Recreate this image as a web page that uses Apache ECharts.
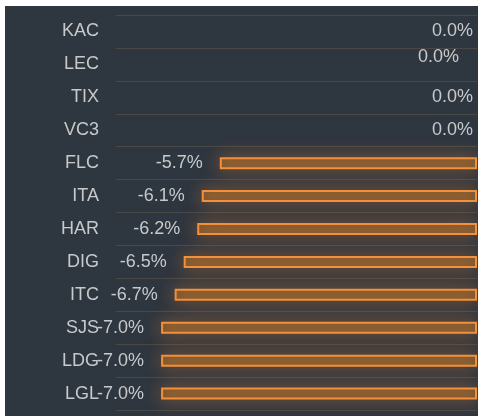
<!DOCTYPE html>
<html>
<head>
<meta charset="utf-8">
<script src="https://cdn.jsdelivr.net/npm/echarts@6/dist/echarts.min.js"></script>
<style>
  html, body { margin: 0; padding: 0; background: #fff; }
  #main { width: 478px; height: 416px; }
</style>
</head>
<body>
<div id="main"></div>
<script>
const tickers = ['KAC', 'LEC', 'TIX', 'VC3', 'FLC', 'ITA', 'HAR', 'DIG', 'ITC', 'SJS', 'LDG', 'LGL']
const changes = [0.0, 0.0, 0.0, 0.0, -5.7, -6.1, -6.2, -6.5, -6.7, -7.0, -7.0, -7.0]

const orange = '#f5903a'
const labelColor = '#c8c9ca'

let myChart = echarts.init(document.getElementById('main'))

let barData = changes.map((v, i) => {
  let item = { value: v }
  if (v === 0) {
    // flat bars: nothing to draw, only the label
    item.itemStyle = { borderWidth: 0, color: 'transparent', shadowBlur: 0 }
    item.label = { distance: 4 }
    if (tickers[i] === 'LEC') item.label.offset = [-14, -7]
  }
  return item
})

let option = {
  animation: false,
  backgroundColor: '#fff',
  graphic: [{
    type: 'rect',
    z: -10,
    silent: true,
    shape: { x: 5, y: 6, width: 473, height: 410 },
    style: { fill: '#2e3640' }
  }],
  grid: {
    left: 116,
    right: 1,
    top: 15,
    bottom: 6,
    containLabel: false
  },
  xAxis: {
    type: 'value',
    min: -8,
    max: 0,
    show: false,
    splitLine: { show: false }
  },
  yAxis: {
    type: 'category',
    inverse: true,
    data: tickers,
    axisLine: { show: false },
    axisTick: { show: false },
    axisLabel: {
      color: labelColor,
      fontSize: 18,
      fontFamily: 'Liberation Sans, Arial, sans-serif',
      margin: 17
    },
    splitLine: {
      show: true,
      lineStyle: { color: '#4a4947', width: 1 }
    }
  },
  series: [
    {
      type: 'bar',
      data: barData,
      barWidth: 12,
      itemStyle: {
        color: 'rgba(245,140,20,0.32)',
        borderColor: orange,
        borderWidth: 2,
        shadowBlur: 18,
        shadowColor: 'rgba(245,144,58,0.8)'
      },
      label: {
        show: true,
        position: 'left',
        distance: 17,
        color: labelColor,
        fontSize: 18,
        fontFamily: 'Liberation Sans, Arial, sans-serif',
        formatter: p => p.value.toFixed(1) + '%'
      }
    }
  ]
}

myChart.setOption(option)
</script>
</body>
</html>
